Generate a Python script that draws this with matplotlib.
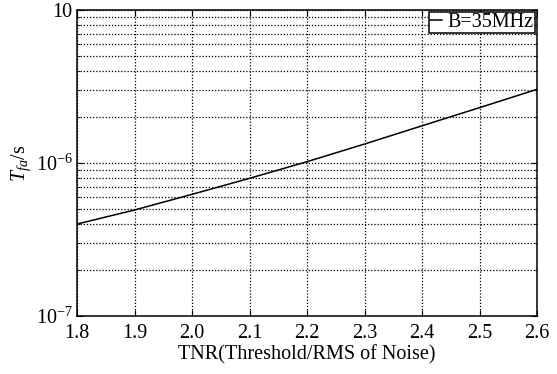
import matplotlib
matplotlib.use("Agg")
import matplotlib.pyplot as plt
from matplotlib.ticker import LogLocator, FixedLocator, NullFormatter

tnr = [1.8, 1.9, 2.0, 2.1, 2.2, 2.3, 2.4, 2.5, 2.6]
tfa = [3.99e-7, 4.93e-7, 6.24e-7, 7.94e-7, 1.02e-6, 1.33e-6, 1.75e-6, 2.30e-6, 3.03e-6]
series_label = "B=35MHz"
xticks = [1.8, 1.9, 2.0, 2.1, 2.2, 2.3, 2.4, 2.5, 2.6]
xtick_labels = ["1.8", "1.9", "2.0", "2.1", "2.2", "2.3", "2.4", "2.5", "2.6"]
yticks = [1e-7, 1e-6, 1e-5]
ytick_labels = ["10$^{-7}$", "10$^{-6}$", "10"]

plt.rcParams['font.family'] = ['Liberation Serif', 'DejaVu Serif']
plt.rcParams['mathtext.fontset'] = 'custom'
plt.rcParams['mathtext.rm'] = 'Liberation Serif'
plt.rcParams['mathtext.it'] = 'Liberation Serif:italic'

fig = plt.figure(figsize=(5.57, 3.74), dpi=100)
ax = fig.add_axes([77/557, 1 - 316/374, (537-77)/557, (316-10)/374])

ax.semilogy(tnr, tfa, color='black', lw=1.1, label=series_label)
ax.set_xlim(1.8, 2.6)
ax.set_ylim(1e-7, 1e-5)
ax.set_xticks(xticks)
ax.set_xticklabels(xtick_labels)
ax.yaxis.set_major_locator(FixedLocator(yticks))
ax.set_yticklabels(ytick_labels)
ax.yaxis.set_minor_locator(LogLocator(base=10, subs=range(2, 10)))
ax.yaxis.set_minor_formatter(NullFormatter())

ax.grid(True, which='major', axis='both', color='black', linestyle=(0, (1, 1.5)), linewidth=0.9)
ax.grid(True, which='minor', axis='y', color='black', linestyle=(0, (1, 1.5)), linewidth=0.9)

ax.tick_params(which='both', direction='in', top=True, right=True, labelsize=14.5)
ax.tick_params(axis='x', which='major', pad=6)
ax.tick_params(axis='y', which='major', pad=3)
ax.tick_params(which='major', length=4)
ax.tick_params(which='minor', length=2)
for s in ax.spines.values():
    s.set_linewidth(1.1)

ax.set_xlabel("TNR(Threshold/RMS of Noise)", fontsize=14.5, labelpad=1)
ax.set_ylabel("$T_{fa}$/s", fontsize=14.5, va='center', ha='center')
ax.yaxis.set_label_coords(-0.122, 0.5)

leg = ax.legend(loc='upper right', fontsize=14.5, frameon=True, fancybox=False,
                edgecolor='black', handlelength=0.6, handletextpad=0.3,
                borderpad=0.05, borderaxespad=0.1, framealpha=1)
leg.get_frame().set_linewidth(1.1)

fig.savefig("out.png", dpi=100)
